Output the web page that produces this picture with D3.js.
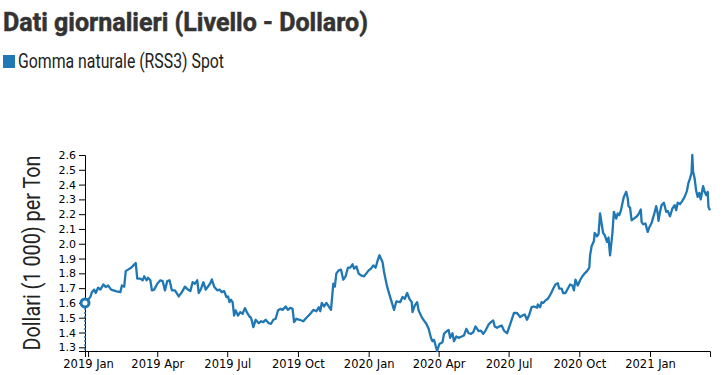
<!DOCTYPE html>
<html>
<head>
<meta charset="utf-8">
<script src="https://cdn.jsdelivr.net/npm/d3@7"></script>
<style>
  body { margin: 0; background: #fff; }
  svg { display: block; }
</style>
</head>
<body>
<svg id="chart"></svg>
<script>
// dates of the plotted points and spot price (1 000 USD per ton)
const dates = [
  "2018-12-28","2019-01-04","2019-01-06","2019-01-09","2019-01-11","2019-01-14","2019-01-17","2019-01-21","2019-01-24","2019-01-27",
  "2019-01-31","2019-02-03","2019-02-07","2019-02-12","2019-02-14","2019-02-17","2019-02-19","2019-02-22","2019-02-26","2019-03-01",
  "2019-03-04","2019-03-06","2019-03-10","2019-03-13","2019-03-15","2019-03-18","2019-03-20","2019-03-23","2019-03-25","2019-03-28",
  "2019-04-01","2019-04-05","2019-04-08","2019-04-11","2019-04-14","2019-04-17","2019-04-20","2019-04-24","2019-04-29","2019-05-03",
  "2019-05-07","2019-05-11","2019-05-14","2019-05-17","2019-05-20","2019-05-23","2019-05-25","2019-05-28","2019-05-31","2019-06-03",
  "2019-06-07","2019-06-09","2019-06-11","2019-06-14","2019-06-18","2019-06-21","2019-06-24","2019-06-27","2019-06-30","2019-07-02",
  "2019-07-04","2019-07-06","2019-07-08","2019-07-10","2019-07-12","2019-07-15","2019-07-18","2019-07-21","2019-07-24","2019-07-27",
  "2019-07-30","2019-08-01","2019-08-04","2019-08-07","2019-08-11","2019-08-14","2019-08-17","2019-08-20","2019-08-24","2019-08-27",
  "2019-08-30","2019-09-02","2019-09-05","2019-09-08","2019-09-11","2019-09-15","2019-09-18","2019-09-21","2019-09-24","2019-09-26",
  "2019-09-29","2019-10-03","2019-10-08","2019-10-12","2019-10-15","2019-10-18","2019-10-21","2019-10-25","2019-10-28","2019-10-30",
  "2019-11-01","2019-11-04","2019-11-07","2019-11-10","2019-11-13","2019-11-16","2019-11-18","2019-11-20","2019-11-23","2019-11-26",
  "2019-11-29","2019-12-02","2019-12-05","2019-12-08","2019-12-11","2019-12-13","2019-12-16","2019-12-19","2019-12-22","2019-12-26",
  "2019-12-29","2020-01-01","2020-01-04","2020-01-07","2020-01-10","2020-01-13","2020-01-15","2020-01-19","2020-01-21","2020-01-25",
  "2020-01-29","2020-02-03","2020-02-06","2020-02-11","2020-02-14","2020-02-17","2020-02-20","2020-02-23","2020-02-26","2020-02-27",
  "2020-03-01","2020-03-04","2020-03-06","2020-03-10","2020-03-13","2020-03-16","2020-03-19","2020-03-22","2020-03-24","2020-03-26",
  "2020-03-28","2020-03-30","2020-04-02","2020-04-06","2020-04-08","2020-04-11","2020-04-14","2020-04-16","2020-04-19","2020-04-21",
  "2020-04-24","2020-04-27","2020-05-01","2020-05-04","2020-05-07","2020-05-10","2020-05-13","2020-05-16","2020-05-19","2020-05-23",
  "2020-05-26","2020-05-29","2020-06-01","2020-06-05","2020-06-08","2020-06-11","2020-06-13","2020-06-16","2020-06-19","2020-06-22",
  "2020-06-25","2020-06-29","2020-07-04","2020-07-08","2020-07-12","2020-07-16","2020-07-19","2020-07-22","2020-07-25","2020-07-28",
  "2020-07-31","2020-08-03","2020-08-07","2020-08-08","2020-08-11","2020-08-13","2020-08-15","2020-08-18","2020-08-21","2020-08-25",
  "2020-08-28","2020-08-31","2020-09-03","2020-09-05","2020-09-08","2020-09-10","2020-09-13","2020-09-16","2020-09-19","2020-09-22",
  "2020-09-24","2020-09-26","2020-09-29","2020-10-02","2020-10-05","2020-10-08","2020-10-11","2020-10-14","2020-10-15","2020-10-17",
  "2020-10-20","2020-10-21","2020-10-24","2020-10-26","2020-10-28","2020-10-30","2020-11-01","2020-11-03","2020-11-06","2020-11-08",
  "2020-11-09","2020-11-10","2020-11-13","2020-11-15","2020-11-18","2020-11-20","2020-11-22","2020-11-24","2020-11-26","2020-11-28",
  "2020-12-01","2020-12-03","2020-12-04","2020-12-06","2020-12-08","2020-12-11","2020-12-15","2020-12-17","2020-12-20","2020-12-21",
  "2020-12-23","2020-12-26","2020-12-29","2020-12-31","2021-01-03","2021-01-06","2021-01-09","2021-01-11","2021-01-12","2021-01-14",
  "2021-01-16","2021-01-19","2021-01-22","2021-01-24","2021-01-27","2021-01-30","2021-02-02","2021-02-04","2021-02-06","2021-02-09",
  "2021-02-12","2021-02-15","2021-02-18","2021-02-20","2021-02-22","2021-02-24","2021-02-25","2021-02-26","2021-02-28","2021-03-02",
  "2021-03-04","2021-03-06","2021-03-08","2021-03-11","2021-03-13","2021-03-15","2021-03-17","2021-03-18","2021-03-20"
];

const values = [
  1.60,1.64,1.673,1.69,1.667,1.703,1.69,1.725,1.707,1.718,
  1.69,1.685,1.678,1.673,1.718,1.71,1.815,1.825,1.838,1.854,
  1.87,1.764,1.764,1.753,1.78,1.753,1.77,1.753,1.685,1.69,
  1.73,1.753,1.748,1.685,1.748,1.753,1.685,1.685,1.644,1.673,
  1.71,1.69,1.68,1.74,1.73,1.753,1.667,1.696,1.74,1.69,
  1.718,1.733,1.759,1.71,1.685,1.69,1.673,1.68,1.639,1.644,
  1.605,1.621,1.605,1.515,1.549,1.515,1.538,1.527,1.565,1.532,
  1.508,1.50,1.436,1.486,1.463,1.476,1.47,1.486,1.463,1.459,
  1.486,1.493,1.549,1.56,1.553,1.576,1.553,1.567,1.56,1.47,
  1.493,1.486,1.476,1.50,1.515,1.532,1.553,1.544,1.571,1.544,
  1.60,1.576,1.60,1.576,1.553,1.73,1.71,1.80,1.82,1.825,
  1.757,1.78,1.838,1.838,1.861,1.832,1.847,1.798,1.786,1.78,
  1.80,1.82,1.832,1.854,1.838,1.893,1.922,1.877,1.809,1.71,
  1.639,1.553,1.61,1.605,1.64,1.628,1.667,1.628,1.605,1.538,
  1.583,1.605,1.549,1.504,1.481,1.459,1.425,1.364,1.341,1.35,
  1.312,1.275,1.323,1.334,1.391,1.407,1.418,1.364,1.395,1.341,
  1.373,1.364,1.373,1.38,1.425,1.395,1.391,1.402,1.441,1.409,
  1.413,1.391,1.413,1.454,1.47,1.481,1.441,1.432,1.441,1.447,
  1.413,1.395,1.47,1.532,1.532,1.504,1.515,1.522,1.486,1.522,
  1.571,1.576,1.567,1.59,1.571,1.605,1.60,1.617,1.628,1.662,
  1.696,1.725,1.733,1.696,1.696,1.667,1.667,1.696,1.725,1.718,
  1.685,1.757,1.718,1.753,1.78,1.80,1.815,1.838,1.922,1.983,
  2.019,2.073,2.051,2.064,2.205,2.137,2.073,2.058,2.012,2.042,
  1.978,1.922,2.069,2.216,2.17,2.205,2.193,2.222,2.272,2.317,
  2.351,2.306,2.254,2.245,2.159,2.17,2.186,2.20,2.232,2.148,
  2.132,2.137,2.08,2.11,2.141,2.193,2.254,2.205,2.155,2.216,
  2.261,2.277,2.216,2.222,2.186,2.238,2.261,2.227,2.277,2.268,
  2.29,2.317,2.358,2.412,2.442,2.48,2.60,2.487,2.442,2.358,
  2.317,2.344,2.30,2.39,2.351,2.329,2.351,2.249,2.227
];

const titleText = "Dati giornalieri (Livello - Dollaro)";
const seriesName = "Gomma naturale (RSS3) Spot";
const yLabel = "Dollari (1 000) per Ton";

const width = 725;
const height = 375;
const margin = { top: 155, right: 15, bottom: 24, left: 85 };
const blue = "#1f77b4";

const parseDate = d3.timeParse("%Y-%m-%d");
const data = dates.map((d, i) => ({ date: parseDate(d), value: values[i] }));

const svg = d3.select("#chart")
  .attr("width", width)
  .attr("height", height);

// titolo e legenda
svg.append("text")
  .attr("x", 3)
  .attr("y", 31)
  .attr("font-family", "Roboto, sans-serif")
  .attr("font-weight", "bold")
  .attr("font-size", 25)
  .attr("fill", "#333")
  .attr("stroke", "#333")
  .attr("stroke-width", 0.5)
  .attr("textLength", 365)
  .attr("lengthAdjust", "spacingAndGlyphs")
  .text(titleText);

svg.append("rect")
  .attr("x", 3)
  .attr("y", 55)
  .attr("width", 12)
  .attr("height", 13)
  .attr("fill", blue);

svg.append("text")
  .attr("x", 18)
  .attr("y", 68)
  .attr("font-family", "Roboto, sans-serif")
  .attr("font-size", 20)
  .attr("fill", "#222")
  .attr("textLength", 206)
  .attr("lengthAdjust", "spacingAndGlyphs")
  .text(seriesName);

const x = d3.scaleTime()
  .domain(d3.extent(data, d => d.date))
  .range([margin.left, width - margin.right]);

const y = d3.scaleLinear()
  .domain(d3.extent(data, d => d.value))
  .range([height - margin.bottom, margin.top]);

// assi
const xAxis = d3.axisBottom(x)
  .ticks(d3.timeMonth.every(3))
  .tickFormat(d3.timeFormat("%Y %b"));

const yAxis = d3.axisLeft(y)
  .ticks(14)
  .tickFormat(d3.format(".1f"));

svg.append("g")
  .attr("transform", `translate(0,${height - margin.bottom})`)
  .call(xAxis)
  .call(g => g.selectAll("text").attr("font-size", 11.5).attr("font-family", "DejaVu Sans, sans-serif"));

svg.append("g")
  .attr("transform", `translate(${margin.left},0)`)
  .call(yAxis)
  .call(g => g.selectAll("text").attr("font-size", 11).attr("font-family", "DejaVu Sans, sans-serif"));

svg.append("text")
  .attr("transform", `translate(40,${(margin.top + height - margin.bottom) / 2}) rotate(-90)`)
  .attr("text-anchor", "middle")
  .attr("font-family", "Roboto, sans-serif")
  .attr("font-size", 23.5)
  .attr("fill", "#222")
  .attr("textLength", 195)
  .attr("lengthAdjust", "spacingAndGlyphs")
  .text(yLabel);

// linea
const line = d3.line()
  .x(d => x(d.date))
  .y(d => y(d.value));

svg.append("path")
  .datum(data)
  .attr("fill", "none")
  .attr("stroke", blue)
  .attr("stroke-width", 2.3)
  .attr("stroke-linejoin", "round")
  .attr("d", line);

// marcatore sul primo punto
const first = data[0];
svg.append("line")
  .attr("x1", x(first.date))
  .attr("x2", x(first.date))
  .attr("y1", y(first.value) + 5)
  .attr("y2", height - margin.bottom)
  .attr("stroke", blue)
  .attr("stroke-width", 1.5)
  .attr("stroke-dasharray", "2,2");

svg.append("circle")
  .attr("cx", x(first.date))
  .attr("cy", y(first.value))
  .attr("r", 4)
  .attr("fill", "#fff")
  .attr("stroke", blue)
  .attr("stroke-width", 3);
</script>
</body>
</html>
